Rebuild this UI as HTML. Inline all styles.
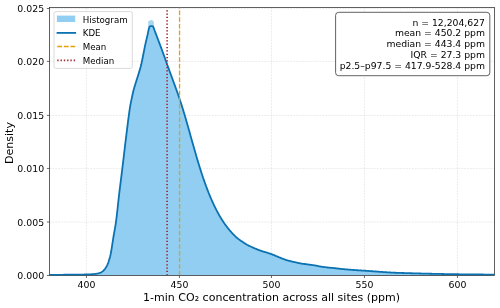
<!DOCTYPE html>
<html><head><meta charset="utf-8"><title>CO2 density</title>
<style>
html,body{margin:0;padding:0;background:#fff;}
svg{display:block;will-change:transform;}
text{font-family:"DejaVu Sans","Liberation Sans",sans-serif;fill:#000;}
</style></head><body>
<svg width="500" height="308" viewBox="0 0 500 308">
<rect width="500" height="308" fill="#fff"/>
<defs><clipPath id="ax"><rect x="49.5" y="7.45" width="445.0" height="268.0"/></clipPath></defs>
<g stroke="#d9d9d9" stroke-width="0.55" stroke-dasharray="1.8 1.1" fill="none">
<line x1="86.45" y1="7.45" x2="86.45" y2="275.45"/>
<line x1="179.45" y1="7.45" x2="179.45" y2="275.45"/>
<line x1="271.45" y1="7.45" x2="271.45" y2="275.45"/>
<line x1="364.45" y1="7.45" x2="364.45" y2="275.45"/>
<line x1="457.45" y1="7.45" x2="457.45" y2="275.45"/>
<line x1="49.5" y1="222.00" x2="494.5" y2="222.00"/>
<line x1="49.5" y1="168.45" x2="494.5" y2="168.45"/>
<line x1="49.5" y1="115.40" x2="494.5" y2="115.40"/>
<line x1="49.5" y1="61.40" x2="494.5" y2="61.40"/>
<line x1="49.5" y1="8.50" x2="494.5" y2="8.50"/>
</g>
<path d="M49.60,274.90 L50.10,274.90 L50.60,274.89 L51.10,274.89 L51.60,274.88 L52.10,274.88 L52.60,274.88 L53.10,274.87 L53.60,274.87 L54.10,274.86 L54.60,274.86 L55.10,274.85 L55.60,274.85 L56.10,274.84 L56.60,274.84 L57.10,274.84 L57.60,274.83 L58.10,274.83 L58.60,274.82 L59.10,274.82 L59.60,274.81 L60.10,274.81 L60.60,274.80 L61.10,274.80 L61.60,274.79 L62.10,274.79 L62.60,274.78 L63.10,274.78 L63.60,274.77 L64.10,274.77 L64.60,274.76 L65.10,274.75 L65.60,274.75 L66.10,274.74 L66.60,274.74 L67.10,274.73 L67.60,274.73 L68.10,274.72 L68.60,274.72 L69.10,274.71 L69.60,274.70 L70.10,274.70 L70.60,274.69 L71.10,274.69 L71.60,274.68 L72.10,274.68 L72.60,274.67 L73.10,274.67 L73.60,274.66 L74.10,274.66 L74.60,274.65 L75.10,274.64 L75.60,274.64 L76.10,274.63 L76.60,274.63 L77.10,274.62 L77.60,274.62 L78.10,274.61 L78.60,274.60 L79.10,274.60 L79.60,274.59 L80.10,274.58 L80.60,274.58 L81.10,274.57 L81.60,274.56 L82.10,274.55 L82.60,274.54 L83.10,274.54 L83.60,274.53 L84.10,274.52 L84.60,274.51 L85.10,274.50 L85.60,274.49 L86.10,274.47 L86.60,274.46 L87.10,274.45 L87.60,274.43 L88.10,274.42 L88.60,274.40 L89.10,274.38 L89.60,274.36 L90.10,274.33 L90.60,274.31 L91.10,274.28 L91.60,274.25 L92.10,274.22 L92.60,274.18 L93.10,274.14 L93.60,274.09 L94.10,274.04 L94.60,273.98 L95.10,273.92 L95.60,273.86 L96.10,273.79 L96.60,273.72 L97.10,273.63 L97.60,273.53 L98.10,273.42 L98.60,273.29 L99.10,273.14 L99.60,272.98 L100.10,272.80 L100.60,272.60 L101.10,272.37 L101.60,272.08 L102.10,271.75 L102.60,271.37 L103.10,270.95 L103.60,270.51 L104.10,269.99 L104.60,269.38 L105.10,268.70 L105.60,267.96 L106.10,267.18 L106.60,266.32 L107.10,265.37 L107.60,264.30 L108.10,263.09 L108.60,261.61 L109.10,259.97 L109.60,258.30 L110.10,256.53 L110.60,254.44 L111.10,251.75 L111.60,248.82 L112.10,245.66 L112.60,242.37 L113.10,239.11 L113.60,236.00 L114.10,233.14 L114.60,230.40 L115.10,227.61 L115.60,224.59 L116.10,221.17 L116.60,217.21 L117.10,212.86 L117.60,208.27 L118.10,203.59 L118.60,198.98 L119.10,194.60 L119.60,190.44 L120.10,186.35 L120.60,182.32 L121.10,178.32 L121.60,174.31 L122.10,170.28 L122.60,166.19 L123.10,162.03 L123.60,157.82 L124.10,153.59 L124.60,149.37 L125.10,145.18 L125.60,141.04 L126.10,136.98 L126.60,132.93 L127.10,128.88 L127.60,124.88 L128.10,120.95 L128.60,117.12 L129.10,113.43 L129.60,109.88 L130.10,106.59 L130.60,103.84 L131.10,101.41 L131.60,99.07 L132.10,96.68 L132.60,94.29 L133.10,92.03 L133.60,90.03 L134.10,88.25 L134.60,86.59 L135.10,84.98 L135.60,83.34 L136.10,81.73 L136.60,80.14 L137.10,78.56 L137.60,76.97 L138.10,75.36 L138.60,73.72 L139.10,72.11 L139.60,70.50 L140.10,68.82 L140.60,67.04 L141.10,65.09 L141.60,62.90 L142.10,60.49 L142.60,57.99 L143.10,55.49 L143.60,53.01 L144.10,50.45 L144.60,47.90 L145.10,45.44 L145.60,43.14 L146.10,40.95 L146.60,38.84 L147.10,36.75 L147.60,34.62 L148.10,32.17 L148.60,29.74 L149.10,27.79 L149.60,26.78 L150.10,26.33 L150.60,26.22 L151.10,26.17 L151.60,26.15 L152.10,26.19 L152.60,26.28 L153.10,26.75 L153.60,27.70 L154.10,29.02 L154.60,30.46 L155.10,31.79 L155.60,33.11 L156.10,34.44 L156.60,35.77 L157.10,37.09 L157.60,38.41 L158.10,39.73 L158.60,41.04 L159.10,42.36 L159.60,43.69 L160.10,45.01 L160.60,46.33 L161.10,47.66 L161.60,49.00 L162.10,50.35 L162.60,51.71 L163.10,53.09 L163.60,54.47 L164.10,55.87 L164.60,57.27 L165.10,58.68 L165.60,60.10 L166.10,61.52 L166.60,62.91 L167.10,64.30 L167.60,65.69 L168.10,67.07 L168.60,68.46 L169.10,69.84 L169.60,71.21 L170.10,72.58 L170.60,73.95 L171.10,75.31 L171.60,76.67 L172.10,78.02 L172.60,79.37 L173.10,80.73 L173.60,82.08 L174.10,83.44 L174.60,84.80 L175.10,86.17 L175.60,87.54 L176.10,88.93 L176.60,90.32 L177.10,91.72 L177.60,93.14 L178.10,94.56 L178.60,96.01 L179.10,97.47 L179.60,98.94 L180.10,100.44 L180.60,101.95 L181.10,103.49 L181.60,105.05 L182.10,106.64 L182.60,108.24 L183.10,109.87 L183.60,111.51 L184.10,113.18 L184.60,114.86 L185.10,116.56 L185.60,118.27 L186.10,120.00 L186.60,121.74 L187.10,123.48 L187.60,125.24 L188.10,127.01 L188.60,128.78 L189.10,130.56 L189.60,132.34 L190.10,134.13 L190.60,135.91 L191.10,137.70 L191.60,139.49 L192.10,141.27 L192.60,143.05 L193.10,144.83 L193.60,146.60 L194.10,148.36 L194.60,150.11 L195.10,151.85 L195.60,153.58 L196.10,155.30 L196.60,157.01 L197.10,158.70 L197.60,160.38 L198.10,162.04 L198.60,163.69 L199.10,165.32 L199.60,166.93 L200.10,168.53 L200.60,170.11 L201.10,171.67 L201.60,173.22 L202.10,174.74 L202.60,176.25 L203.10,177.74 L203.60,179.20 L204.10,180.65 L204.60,182.07 L205.10,183.48 L205.60,184.86 L206.10,186.22 L206.60,187.56 L207.10,188.88 L207.60,190.18 L208.10,191.46 L208.60,192.72 L209.10,193.97 L209.60,195.19 L210.10,196.39 L210.60,197.58 L211.10,198.74 L211.60,199.89 L212.10,201.02 L212.60,202.13 L213.10,203.22 L213.60,204.29 L214.10,205.35 L214.60,206.38 L215.10,207.41 L215.60,208.41 L216.10,209.40 L216.60,210.37 L217.10,211.32 L217.60,212.26 L218.10,213.18 L218.60,214.08 L219.10,214.97 L219.60,215.84 L220.10,216.70 L220.60,217.54 L221.10,218.37 L221.60,219.18 L222.10,219.97 L222.60,220.75 L223.10,221.52 L223.60,222.27 L224.10,223.01 L224.60,223.74 L225.10,224.45 L225.60,225.14 L226.10,225.83 L226.60,226.50 L227.10,227.15 L227.60,227.80 L228.10,228.43 L228.60,229.05 L229.10,229.66 L229.60,230.25 L230.10,230.83 L230.60,231.40 L231.10,231.96 L231.60,232.51 L232.10,233.05 L232.60,233.60 L233.10,234.14 L233.60,234.67 L234.10,235.18 L234.60,235.69 L235.10,236.17 L235.60,236.64 L236.10,237.09 L236.60,237.53 L237.10,237.96 L237.60,238.37 L238.10,238.77 L238.60,239.15 L239.10,239.53 L239.60,239.88 L240.10,240.23 L240.60,240.57 L241.10,240.91 L241.60,241.24 L242.10,241.57 L242.60,241.90 L243.10,242.23 L243.60,242.57 L244.10,242.90 L244.60,243.23 L245.10,243.55 L245.60,243.87 L246.10,244.19 L246.60,244.49 L247.10,244.78 L247.60,245.05 L248.10,245.32 L248.60,245.58 L249.10,245.82 L249.60,246.06 L250.10,246.30 L250.60,246.53 L251.10,246.76 L251.60,246.98 L252.10,247.21 L252.60,247.44 L253.10,247.66 L253.60,247.88 L254.10,248.10 L254.60,248.32 L255.10,248.53 L255.60,248.75 L256.10,248.95 L256.60,249.16 L257.10,249.36 L257.60,249.56 L258.10,249.75 L258.60,249.95 L259.10,250.14 L259.60,250.32 L260.10,250.51 L260.60,250.69 L261.10,250.86 L261.60,251.03 L262.10,251.20 L262.60,251.36 L263.10,251.51 L263.60,251.65 L264.10,251.79 L264.60,251.93 L265.10,252.07 L265.60,252.21 L266.10,252.36 L266.60,252.51 L267.10,252.66 L267.60,252.82 L268.10,252.99 L268.60,253.15 L269.10,253.32 L269.60,253.49 L270.10,253.67 L270.60,253.85 L271.10,254.03 L271.60,254.21 L272.10,254.40 L272.60,254.60 L273.10,254.80 L273.60,255.00 L274.10,255.20 L274.60,255.41 L275.10,255.62 L275.60,255.83 L276.10,256.04 L276.60,256.25 L277.10,256.45 L277.60,256.66 L278.10,256.86 L278.60,257.07 L279.10,257.28 L279.60,257.49 L280.10,257.70 L280.60,257.91 L281.10,258.11 L281.60,258.31 L282.10,258.51 L282.60,258.70 L283.10,258.89 L283.60,259.07 L284.10,259.26 L284.60,259.44 L285.10,259.62 L285.60,259.79 L286.10,259.96 L286.60,260.13 L287.10,260.28 L287.60,260.43 L288.10,260.57 L288.60,260.70 L289.10,260.83 L289.60,260.96 L290.10,261.08 L290.60,261.20 L291.10,261.32 L291.60,261.44 L292.10,261.55 L292.60,261.67 L293.10,261.79 L293.60,261.90 L294.10,262.02 L294.60,262.13 L295.10,262.24 L295.60,262.35 L296.10,262.46 L296.60,262.57 L297.10,262.68 L297.60,262.79 L298.10,262.90 L298.60,263.01 L299.10,263.12 L299.60,263.23 L300.10,263.33 L300.60,263.43 L301.10,263.53 L301.60,263.62 L302.10,263.70 L302.60,263.77 L303.10,263.84 L303.60,263.91 L304.10,263.97 L304.60,264.02 L305.10,264.08 L305.60,264.14 L306.10,264.20 L306.60,264.26 L307.10,264.33 L307.60,264.40 L308.10,264.47 L308.60,264.54 L309.10,264.61 L309.60,264.69 L310.10,264.76 L310.60,264.83 L311.10,264.90 L311.60,264.97 L312.10,265.04 L312.60,265.10 L313.10,265.16 L313.60,265.22 L314.10,265.29 L314.60,265.35 L315.10,265.43 L315.60,265.52 L316.10,265.62 L316.60,265.73 L317.10,265.85 L317.60,265.96 L318.10,266.08 L318.60,266.19 L319.10,266.29 L319.60,266.38 L320.10,266.47 L320.60,266.55 L321.10,266.62 L321.60,266.70 L322.10,266.77 L322.60,266.83 L323.10,266.90 L323.60,266.97 L324.10,267.03 L324.60,267.10 L325.10,267.17 L325.60,267.23 L326.10,267.30 L326.60,267.36 L327.10,267.43 L327.60,267.49 L328.10,267.55 L328.60,267.61 L329.10,267.66 L329.60,267.71 L330.10,267.76 L330.60,267.80 L331.10,267.84 L331.60,267.88 L332.10,267.92 L332.60,267.95 L333.10,267.99 L333.60,268.03 L334.10,268.08 L334.60,268.13 L335.10,268.19 L335.60,268.25 L336.10,268.31 L336.60,268.37 L337.10,268.44 L337.60,268.50 L338.10,268.57 L338.60,268.63 L339.10,268.69 L339.60,268.74 L340.10,268.80 L340.60,268.85 L341.10,268.91 L341.60,268.96 L342.10,269.01 L342.60,269.06 L343.10,269.11 L343.60,269.15 L344.10,269.20 L344.60,269.25 L345.10,269.29 L345.60,269.33 L346.10,269.37 L346.60,269.41 L347.10,269.45 L347.60,269.49 L348.10,269.53 L348.60,269.58 L349.10,269.62 L349.60,269.66 L350.10,269.70 L350.60,269.74 L351.10,269.78 L351.60,269.82 L352.10,269.87 L352.60,269.91 L353.10,269.95 L353.60,269.98 L354.10,270.02 L354.60,270.06 L355.10,270.10 L355.60,270.13 L356.10,270.17 L356.60,270.21 L357.10,270.24 L357.60,270.27 L358.10,270.31 L358.60,270.34 L359.10,270.37 L359.60,270.40 L360.10,270.43 L360.60,270.46 L361.10,270.49 L361.60,270.51 L362.10,270.54 L362.60,270.57 L363.10,270.60 L363.60,270.63 L364.10,270.66 L364.60,270.69 L365.10,270.73 L365.60,270.76 L366.10,270.79 L366.60,270.83 L367.10,270.86 L367.60,270.90 L368.10,270.93 L368.60,270.97 L369.10,271.00 L369.60,271.04 L370.10,271.08 L370.60,271.11 L371.10,271.15 L371.60,271.19 L372.10,271.23 L372.60,271.26 L373.10,271.30 L373.60,271.33 L374.10,271.37 L374.60,271.41 L375.10,271.44 L375.60,271.48 L376.10,271.52 L376.60,271.55 L377.10,271.59 L377.60,271.63 L378.10,271.66 L378.60,271.70 L379.10,271.74 L379.60,271.78 L380.10,271.81 L380.60,271.85 L381.10,271.88 L381.60,271.92 L382.10,271.96 L382.60,271.99 L383.10,272.03 L383.60,272.06 L384.10,272.09 L384.60,272.13 L385.10,272.16 L385.60,272.19 L386.10,272.23 L386.60,272.26 L387.10,272.30 L387.60,272.33 L388.10,272.36 L388.60,272.40 L389.10,272.43 L389.60,272.46 L390.10,272.49 L390.60,272.52 L391.10,272.55 L391.60,272.58 L392.10,272.61 L392.60,272.63 L393.10,272.66 L393.60,272.68 L394.10,272.70 L394.60,272.73 L395.10,272.75 L395.60,272.76 L396.10,272.78 L396.60,272.80 L397.10,272.82 L397.60,272.83 L398.10,272.85 L398.60,272.87 L399.10,272.88 L399.60,272.90 L400.10,272.91 L400.60,272.93 L401.10,272.94 L401.60,272.96 L402.10,272.97 L402.60,272.99 L403.10,273.00 L403.60,273.02 L404.10,273.03 L404.60,273.05 L405.10,273.06 L405.60,273.08 L406.10,273.10 L406.60,273.11 L407.10,273.13 L407.60,273.14 L408.10,273.16 L408.60,273.17 L409.10,273.19 L409.60,273.20 L410.10,273.21 L410.60,273.23 L411.10,273.24 L411.60,273.26 L412.10,273.27 L412.60,273.29 L413.10,273.30 L413.60,273.32 L414.10,273.33 L414.60,273.34 L415.10,273.36 L415.60,273.37 L416.10,273.39 L416.60,273.40 L417.10,273.41 L417.60,273.43 L418.10,273.44 L418.60,273.45 L419.10,273.47 L419.60,273.48 L420.10,273.49 L420.60,273.51 L421.10,273.52 L421.60,273.53 L422.10,273.55 L422.60,273.56 L423.10,273.57 L423.60,273.58 L424.10,273.60 L424.60,273.61 L425.10,273.62 L425.60,273.63 L426.10,273.64 L426.60,273.66 L427.10,273.67 L427.60,273.68 L428.10,273.69 L428.60,273.70 L429.10,273.71 L429.60,273.73 L430.10,273.74 L430.60,273.75 L431.10,273.76 L431.60,273.77 L432.10,273.78 L432.60,273.79 L433.10,273.81 L433.60,273.82 L434.10,273.83 L434.60,273.84 L435.10,273.85 L435.60,273.86 L436.10,273.87 L436.60,273.88 L437.10,273.89 L437.60,273.90 L438.10,273.91 L438.60,273.92 L439.10,273.93 L439.60,273.94 L440.10,273.95 L440.60,273.96 L441.10,273.97 L441.60,273.98 L442.10,273.99 L442.60,274.00 L443.10,274.01 L443.60,274.02 L444.10,274.03 L444.60,274.04 L445.10,274.05 L445.60,274.06 L446.10,274.07 L446.60,274.08 L447.10,274.08 L447.60,274.09 L448.10,274.10 L448.60,274.11 L449.10,274.12 L449.60,274.13 L450.10,274.13 L450.60,274.14 L451.10,274.15 L451.60,274.16 L452.10,274.17 L452.60,274.17 L453.10,274.18 L453.60,274.19 L454.10,274.20 L454.60,274.20 L455.10,274.21 L455.60,274.22 L456.10,274.23 L456.60,274.23 L457.10,274.24 L457.60,274.25 L458.10,274.25 L458.60,274.26 L459.10,274.27 L459.60,274.28 L460.10,274.28 L460.60,274.29 L461.10,274.30 L461.60,274.30 L462.10,274.31 L462.60,274.31 L463.10,274.32 L463.60,274.33 L464.10,274.33 L464.60,274.34 L465.10,274.35 L465.60,274.35 L466.10,274.36 L466.60,274.36 L467.10,274.37 L467.60,274.37 L468.10,274.38 L468.60,274.39 L469.10,274.39 L469.60,274.40 L470.10,274.40 L470.60,274.41 L471.10,274.41 L471.60,274.42 L472.10,274.42 L472.60,274.43 L473.10,274.43 L473.60,274.44 L474.10,274.44 L474.60,274.45 L475.10,274.45 L475.60,274.46 L476.10,274.46 L476.60,274.47 L477.10,274.47 L477.60,274.47 L478.10,274.48 L478.60,274.48 L479.10,274.49 L479.60,274.49 L480.10,274.50 L480.60,274.50 L481.10,274.51 L481.60,274.51 L482.10,274.51 L482.60,274.52 L483.10,274.52 L483.60,274.53 L484.10,274.53 L484.60,274.53 L485.10,274.54 L485.60,274.54 L486.10,274.55 L486.60,274.55 L487.10,274.55 L487.60,274.56 L488.10,274.56 L488.60,274.56 L489.10,274.57 L489.60,274.57 L490.10,274.57 L490.60,274.58 L491.10,274.58 L491.60,274.58 L492.10,274.59 L492.60,274.59 L493.10,274.59 L493.60,274.60 L494.10,274.60 L494.50,274.60 L494.5,275.45 L49.5,275.45 Z" fill="#91cef1" stroke="none"/>
<path d="M148.2,27.5 L148.2,21.5 L149.6,20.6 L151.6,19.9 L153.2,20.8 L153.9,22.5 L154.1,27.5 Z" fill="#a9d7f2"/>
<rect x="49.5" y="7.45" width="445.0" height="268.0" fill="none" stroke="#3a3a3a" stroke-width="0.8"/>
<g clip-path="url(#ax)">
<path d="M49.60,274.90 L50.10,274.90 L50.60,274.89 L51.10,274.89 L51.60,274.88 L52.10,274.88 L52.60,274.88 L53.10,274.87 L53.60,274.87 L54.10,274.86 L54.60,274.86 L55.10,274.85 L55.60,274.85 L56.10,274.84 L56.60,274.84 L57.10,274.84 L57.60,274.83 L58.10,274.83 L58.60,274.82 L59.10,274.82 L59.60,274.81 L60.10,274.81 L60.60,274.80 L61.10,274.80 L61.60,274.79 L62.10,274.79 L62.60,274.78 L63.10,274.78 L63.60,274.77 L64.10,274.77 L64.60,274.76 L65.10,274.75 L65.60,274.75 L66.10,274.74 L66.60,274.74 L67.10,274.73 L67.60,274.73 L68.10,274.72 L68.60,274.72 L69.10,274.71 L69.60,274.70 L70.10,274.70 L70.60,274.69 L71.10,274.69 L71.60,274.68 L72.10,274.68 L72.60,274.67 L73.10,274.67 L73.60,274.66 L74.10,274.66 L74.60,274.65 L75.10,274.64 L75.60,274.64 L76.10,274.63 L76.60,274.63 L77.10,274.62 L77.60,274.62 L78.10,274.61 L78.60,274.60 L79.10,274.60 L79.60,274.59 L80.10,274.58 L80.60,274.58 L81.10,274.57 L81.60,274.56 L82.10,274.55 L82.60,274.54 L83.10,274.54 L83.60,274.53 L84.10,274.52 L84.60,274.51 L85.10,274.50 L85.60,274.49 L86.10,274.47 L86.60,274.46 L87.10,274.45 L87.60,274.43 L88.10,274.42 L88.60,274.40 L89.10,274.38 L89.60,274.36 L90.10,274.33 L90.60,274.31 L91.10,274.28 L91.60,274.25 L92.10,274.22 L92.60,274.18 L93.10,274.14 L93.60,274.09 L94.10,274.04 L94.60,273.98 L95.10,273.92 L95.60,273.86 L96.10,273.79 L96.60,273.72 L97.10,273.63 L97.60,273.53 L98.10,273.42 L98.60,273.29 L99.10,273.14 L99.60,272.98 L100.10,272.80 L100.60,272.60 L101.10,272.37 L101.60,272.08 L102.10,271.75 L102.60,271.37 L103.10,270.95 L103.60,270.51 L104.10,269.99 L104.60,269.38 L105.10,268.70 L105.60,267.96 L106.10,267.18 L106.60,266.32 L107.10,265.37 L107.60,264.30 L108.10,263.09 L108.60,261.61 L109.10,259.97 L109.60,258.30 L110.10,256.53 L110.60,254.44 L111.10,251.75 L111.60,248.82 L112.10,245.66 L112.60,242.37 L113.10,239.11 L113.60,236.00 L114.10,233.14 L114.60,230.40 L115.10,227.61 L115.60,224.59 L116.10,221.17 L116.60,217.21 L117.10,212.86 L117.60,208.27 L118.10,203.59 L118.60,198.98 L119.10,194.60 L119.60,190.44 L120.10,186.35 L120.60,182.32 L121.10,178.32 L121.60,174.31 L122.10,170.28 L122.60,166.19 L123.10,162.03 L123.60,157.82 L124.10,153.59 L124.60,149.37 L125.10,145.18 L125.60,141.04 L126.10,136.98 L126.60,132.93 L127.10,128.88 L127.60,124.88 L128.10,120.95 L128.60,117.12 L129.10,113.43 L129.60,109.88 L130.10,106.59 L130.60,103.84 L131.10,101.41 L131.60,99.07 L132.10,96.68 L132.60,94.29 L133.10,92.03 L133.60,90.03 L134.10,88.25 L134.60,86.59 L135.10,84.98 L135.60,83.34 L136.10,81.73 L136.60,80.14 L137.10,78.56 L137.60,76.97 L138.10,75.36 L138.60,73.72 L139.10,72.11 L139.60,70.50 L140.10,68.82 L140.60,67.04 L141.10,65.09 L141.60,62.90 L142.10,60.49 L142.60,57.99 L143.10,55.49 L143.60,53.01 L144.10,50.45 L144.60,47.90 L145.10,45.44 L145.60,43.14 L146.10,40.95 L146.60,38.84 L147.10,36.75 L147.60,34.62 L148.10,32.17 L148.60,29.74 L149.10,27.79 L149.60,26.78 L150.10,26.33 L150.60,26.22 L151.10,26.17 L151.60,26.15 L152.10,26.19 L152.60,26.28 L153.10,26.75 L153.60,27.70 L154.10,29.02 L154.60,30.46 L155.10,31.79 L155.60,33.11 L156.10,34.44 L156.60,35.77 L157.10,37.09 L157.60,38.41 L158.10,39.73 L158.60,41.04 L159.10,42.36 L159.60,43.69 L160.10,45.01 L160.60,46.33 L161.10,47.66 L161.60,49.00 L162.10,50.35 L162.60,51.71 L163.10,53.09 L163.60,54.47 L164.10,55.87 L164.60,57.27 L165.10,58.68 L165.60,60.10 L166.10,61.52 L166.60,62.91 L167.10,64.30 L167.60,65.69 L168.10,67.07 L168.60,68.46 L169.10,69.84 L169.60,71.21 L170.10,72.58 L170.60,73.95 L171.10,75.31 L171.60,76.67 L172.10,78.02 L172.60,79.37 L173.10,80.73 L173.60,82.08 L174.10,83.44 L174.60,84.80 L175.10,86.17 L175.60,87.54 L176.10,88.93 L176.60,90.32 L177.10,91.72 L177.60,93.14 L178.10,94.56 L178.60,96.01 L179.10,97.47 L179.60,98.94 L180.10,100.44 L180.60,101.95 L181.10,103.49 L181.60,105.05 L182.10,106.64 L182.60,108.24 L183.10,109.87 L183.60,111.51 L184.10,113.18 L184.60,114.86 L185.10,116.56 L185.60,118.27 L186.10,120.00 L186.60,121.74 L187.10,123.48 L187.60,125.24 L188.10,127.01 L188.60,128.78 L189.10,130.56 L189.60,132.34 L190.10,134.13 L190.60,135.91 L191.10,137.70 L191.60,139.49 L192.10,141.27 L192.60,143.05 L193.10,144.83 L193.60,146.60 L194.10,148.36 L194.60,150.11 L195.10,151.85 L195.60,153.58 L196.10,155.30 L196.60,157.01 L197.10,158.70 L197.60,160.38 L198.10,162.04 L198.60,163.69 L199.10,165.32 L199.60,166.93 L200.10,168.53 L200.60,170.11 L201.10,171.67 L201.60,173.22 L202.10,174.74 L202.60,176.25 L203.10,177.74 L203.60,179.20 L204.10,180.65 L204.60,182.07 L205.10,183.48 L205.60,184.86 L206.10,186.22 L206.60,187.56 L207.10,188.88 L207.60,190.18 L208.10,191.46 L208.60,192.72 L209.10,193.97 L209.60,195.19 L210.10,196.39 L210.60,197.58 L211.10,198.74 L211.60,199.89 L212.10,201.02 L212.60,202.13 L213.10,203.22 L213.60,204.29 L214.10,205.35 L214.60,206.38 L215.10,207.41 L215.60,208.41 L216.10,209.40 L216.60,210.37 L217.10,211.32 L217.60,212.26 L218.10,213.18 L218.60,214.08 L219.10,214.97 L219.60,215.84 L220.10,216.70 L220.60,217.54 L221.10,218.37 L221.60,219.18 L222.10,219.97 L222.60,220.75 L223.10,221.52 L223.60,222.27 L224.10,223.01 L224.60,223.74 L225.10,224.45 L225.60,225.14 L226.10,225.83 L226.60,226.50 L227.10,227.15 L227.60,227.80 L228.10,228.43 L228.60,229.05 L229.10,229.66 L229.60,230.25 L230.10,230.83 L230.60,231.40 L231.10,231.96 L231.60,232.51 L232.10,233.05 L232.60,233.60 L233.10,234.14 L233.60,234.67 L234.10,235.18 L234.60,235.69 L235.10,236.17 L235.60,236.64 L236.10,237.09 L236.60,237.53 L237.10,237.96 L237.60,238.37 L238.10,238.77 L238.60,239.15 L239.10,239.53 L239.60,239.88 L240.10,240.23 L240.60,240.57 L241.10,240.91 L241.60,241.24 L242.10,241.57 L242.60,241.90 L243.10,242.23 L243.60,242.57 L244.10,242.90 L244.60,243.23 L245.10,243.55 L245.60,243.87 L246.10,244.19 L246.60,244.49 L247.10,244.78 L247.60,245.05 L248.10,245.32 L248.60,245.58 L249.10,245.82 L249.60,246.06 L250.10,246.30 L250.60,246.53 L251.10,246.76 L251.60,246.98 L252.10,247.21 L252.60,247.44 L253.10,247.66 L253.60,247.88 L254.10,248.10 L254.60,248.32 L255.10,248.53 L255.60,248.75 L256.10,248.95 L256.60,249.16 L257.10,249.36 L257.60,249.56 L258.10,249.75 L258.60,249.95 L259.10,250.14 L259.60,250.32 L260.10,250.51 L260.60,250.69 L261.10,250.86 L261.60,251.03 L262.10,251.20 L262.60,251.36 L263.10,251.51 L263.60,251.65 L264.10,251.79 L264.60,251.93 L265.10,252.07 L265.60,252.21 L266.10,252.36 L266.60,252.51 L267.10,252.66 L267.60,252.82 L268.10,252.99 L268.60,253.15 L269.10,253.32 L269.60,253.49 L270.10,253.67 L270.60,253.85 L271.10,254.03 L271.60,254.21 L272.10,254.40 L272.60,254.60 L273.10,254.80 L273.60,255.00 L274.10,255.20 L274.60,255.41 L275.10,255.62 L275.60,255.83 L276.10,256.04 L276.60,256.25 L277.10,256.45 L277.60,256.66 L278.10,256.86 L278.60,257.07 L279.10,257.28 L279.60,257.49 L280.10,257.70 L280.60,257.91 L281.10,258.11 L281.60,258.31 L282.10,258.51 L282.60,258.70 L283.10,258.89 L283.60,259.07 L284.10,259.26 L284.60,259.44 L285.10,259.62 L285.60,259.79 L286.10,259.96 L286.60,260.13 L287.10,260.28 L287.60,260.43 L288.10,260.57 L288.60,260.70 L289.10,260.83 L289.60,260.96 L290.10,261.08 L290.60,261.20 L291.10,261.32 L291.60,261.44 L292.10,261.55 L292.60,261.67 L293.10,261.79 L293.60,261.90 L294.10,262.02 L294.60,262.13 L295.10,262.24 L295.60,262.35 L296.10,262.46 L296.60,262.57 L297.10,262.68 L297.60,262.79 L298.10,262.90 L298.60,263.01 L299.10,263.12 L299.60,263.23 L300.10,263.33 L300.60,263.43 L301.10,263.53 L301.60,263.62 L302.10,263.70 L302.60,263.77 L303.10,263.84 L303.60,263.91 L304.10,263.97 L304.60,264.02 L305.10,264.08 L305.60,264.14 L306.10,264.20 L306.60,264.26 L307.10,264.33 L307.60,264.40 L308.10,264.47 L308.60,264.54 L309.10,264.61 L309.60,264.69 L310.10,264.76 L310.60,264.83 L311.10,264.90 L311.60,264.97 L312.10,265.04 L312.60,265.10 L313.10,265.16 L313.60,265.22 L314.10,265.29 L314.60,265.35 L315.10,265.43 L315.60,265.52 L316.10,265.62 L316.60,265.73 L317.10,265.85 L317.60,265.96 L318.10,266.08 L318.60,266.19 L319.10,266.29 L319.60,266.38 L320.10,266.47 L320.60,266.55 L321.10,266.62 L321.60,266.70 L322.10,266.77 L322.60,266.83 L323.10,266.90 L323.60,266.97 L324.10,267.03 L324.60,267.10 L325.10,267.17 L325.60,267.23 L326.10,267.30 L326.60,267.36 L327.10,267.43 L327.60,267.49 L328.10,267.55 L328.60,267.61 L329.10,267.66 L329.60,267.71 L330.10,267.76 L330.60,267.80 L331.10,267.84 L331.60,267.88 L332.10,267.92 L332.60,267.95 L333.10,267.99 L333.60,268.03 L334.10,268.08 L334.60,268.13 L335.10,268.19 L335.60,268.25 L336.10,268.31 L336.60,268.37 L337.10,268.44 L337.60,268.50 L338.10,268.57 L338.60,268.63 L339.10,268.69 L339.60,268.74 L340.10,268.80 L340.60,268.85 L341.10,268.91 L341.60,268.96 L342.10,269.01 L342.60,269.06 L343.10,269.11 L343.60,269.15 L344.10,269.20 L344.60,269.25 L345.10,269.29 L345.60,269.33 L346.10,269.37 L346.60,269.41 L347.10,269.45 L347.60,269.49 L348.10,269.53 L348.60,269.58 L349.10,269.62 L349.60,269.66 L350.10,269.70 L350.60,269.74 L351.10,269.78 L351.60,269.82 L352.10,269.87 L352.60,269.91 L353.10,269.95 L353.60,269.98 L354.10,270.02 L354.60,270.06 L355.10,270.10 L355.60,270.13 L356.10,270.17 L356.60,270.21 L357.10,270.24 L357.60,270.27 L358.10,270.31 L358.60,270.34 L359.10,270.37 L359.60,270.40 L360.10,270.43 L360.60,270.46 L361.10,270.49 L361.60,270.51 L362.10,270.54 L362.60,270.57 L363.10,270.60 L363.60,270.63 L364.10,270.66 L364.60,270.69 L365.10,270.73 L365.60,270.76 L366.10,270.79 L366.60,270.83 L367.10,270.86 L367.60,270.90 L368.10,270.93 L368.60,270.97 L369.10,271.00 L369.60,271.04 L370.10,271.08 L370.60,271.11 L371.10,271.15 L371.60,271.19 L372.10,271.23 L372.60,271.26 L373.10,271.30 L373.60,271.33 L374.10,271.37 L374.60,271.41 L375.10,271.44 L375.60,271.48 L376.10,271.52 L376.60,271.55 L377.10,271.59 L377.60,271.63 L378.10,271.66 L378.60,271.70 L379.10,271.74 L379.60,271.78 L380.10,271.81 L380.60,271.85 L381.10,271.88 L381.60,271.92 L382.10,271.96 L382.60,271.99 L383.10,272.03 L383.60,272.06 L384.10,272.09 L384.60,272.13 L385.10,272.16 L385.60,272.19 L386.10,272.23 L386.60,272.26 L387.10,272.30 L387.60,272.33 L388.10,272.36 L388.60,272.40 L389.10,272.43 L389.60,272.46 L390.10,272.49 L390.60,272.52 L391.10,272.55 L391.60,272.58 L392.10,272.61 L392.60,272.63 L393.10,272.66 L393.60,272.68 L394.10,272.70 L394.60,272.73 L395.10,272.75 L395.60,272.76 L396.10,272.78 L396.60,272.80 L397.10,272.82 L397.60,272.83 L398.10,272.85 L398.60,272.87 L399.10,272.88 L399.60,272.90 L400.10,272.91 L400.60,272.93 L401.10,272.94 L401.60,272.96 L402.10,272.97 L402.60,272.99 L403.10,273.00 L403.60,273.02 L404.10,273.03 L404.60,273.05 L405.10,273.06 L405.60,273.08 L406.10,273.10 L406.60,273.11 L407.10,273.13 L407.60,273.14 L408.10,273.16 L408.60,273.17 L409.10,273.19 L409.60,273.20 L410.10,273.21 L410.60,273.23 L411.10,273.24 L411.60,273.26 L412.10,273.27 L412.60,273.29 L413.10,273.30 L413.60,273.32 L414.10,273.33 L414.60,273.34 L415.10,273.36 L415.60,273.37 L416.10,273.39 L416.60,273.40 L417.10,273.41 L417.60,273.43 L418.10,273.44 L418.60,273.45 L419.10,273.47 L419.60,273.48 L420.10,273.49 L420.60,273.51 L421.10,273.52 L421.60,273.53 L422.10,273.55 L422.60,273.56 L423.10,273.57 L423.60,273.58 L424.10,273.60 L424.60,273.61 L425.10,273.62 L425.60,273.63 L426.10,273.64 L426.60,273.66 L427.10,273.67 L427.60,273.68 L428.10,273.69 L428.60,273.70 L429.10,273.71 L429.60,273.73 L430.10,273.74 L430.60,273.75 L431.10,273.76 L431.60,273.77 L432.10,273.78 L432.60,273.79 L433.10,273.81 L433.60,273.82 L434.10,273.83 L434.60,273.84 L435.10,273.85 L435.60,273.86 L436.10,273.87 L436.60,273.88 L437.10,273.89 L437.60,273.90 L438.10,273.91 L438.60,273.92 L439.10,273.93 L439.60,273.94 L440.10,273.95 L440.60,273.96 L441.10,273.97 L441.60,273.98 L442.10,273.99 L442.60,274.00 L443.10,274.01 L443.60,274.02 L444.10,274.03 L444.60,274.04 L445.10,274.05 L445.60,274.06 L446.10,274.07 L446.60,274.08 L447.10,274.08 L447.60,274.09 L448.10,274.10 L448.60,274.11 L449.10,274.12 L449.60,274.13 L450.10,274.13 L450.60,274.14 L451.10,274.15 L451.60,274.16 L452.10,274.17 L452.60,274.17 L453.10,274.18 L453.60,274.19 L454.10,274.20 L454.60,274.20 L455.10,274.21 L455.60,274.22 L456.10,274.23 L456.60,274.23 L457.10,274.24 L457.60,274.25 L458.10,274.25 L458.60,274.26 L459.10,274.27 L459.60,274.28 L460.10,274.28 L460.60,274.29 L461.10,274.30 L461.60,274.30 L462.10,274.31 L462.60,274.31 L463.10,274.32 L463.60,274.33 L464.10,274.33 L464.60,274.34 L465.10,274.35 L465.60,274.35 L466.10,274.36 L466.60,274.36 L467.10,274.37 L467.60,274.37 L468.10,274.38 L468.60,274.39 L469.10,274.39 L469.60,274.40 L470.10,274.40 L470.60,274.41 L471.10,274.41 L471.60,274.42 L472.10,274.42 L472.60,274.43 L473.10,274.43 L473.60,274.44 L474.10,274.44 L474.60,274.45 L475.10,274.45 L475.60,274.46 L476.10,274.46 L476.60,274.47 L477.10,274.47 L477.60,274.47 L478.10,274.48 L478.60,274.48 L479.10,274.49 L479.60,274.49 L480.10,274.50 L480.60,274.50 L481.10,274.51 L481.60,274.51 L482.10,274.51 L482.60,274.52 L483.10,274.52 L483.60,274.53 L484.10,274.53 L484.60,274.53 L485.10,274.54 L485.60,274.54 L486.10,274.55 L486.60,274.55 L487.10,274.55 L487.60,274.56 L488.10,274.56 L488.60,274.56 L489.10,274.57 L489.60,274.57 L490.10,274.57 L490.60,274.58 L491.10,274.58 L491.60,274.58 L492.10,274.59 L492.60,274.59 L493.10,274.59 L493.60,274.60 L494.10,274.60 L494.50,274.60" fill="none" stroke="#0b72b2" stroke-width="1.8" stroke-linejoin="round"/>
<line x1="179.55" y1="275.45" x2="179.55" y2="7.45" stroke="#e6a00f" stroke-width="1.3" stroke-dasharray="4.6 2.075"/>
<line x1="167.13" y1="275.45" x2="167.13" y2="7.45" stroke="#a62a38" stroke-width="1.8" stroke-dasharray="1.25 2.092"/>
</g>
<g stroke="#3a3a3a" stroke-width="0.75">
<line x1="86.45" y1="275.45" x2="86.45" y2="278.05"/>
<line x1="179.45" y1="275.45" x2="179.45" y2="278.05"/>
<line x1="271.45" y1="275.45" x2="271.45" y2="278.05"/>
<line x1="364.45" y1="275.45" x2="364.45" y2="278.05"/>
<line x1="457.45" y1="275.45" x2="457.45" y2="278.05"/>
<line x1="46.9" y1="275.45" x2="49.5" y2="275.45"/>
<line x1="46.9" y1="222.00" x2="49.5" y2="222.00"/>
<line x1="46.9" y1="168.45" x2="49.5" y2="168.45"/>
<line x1="46.9" y1="115.40" x2="49.5" y2="115.40"/>
<line x1="46.9" y1="61.40" x2="49.5" y2="61.40"/>
<line x1="46.9" y1="8.50" x2="49.5" y2="8.50"/>
</g>
<g font-size="9.35">
<text x="86.45" y="287.75" text-anchor="middle">400</text>
<text x="179.45" y="287.75" text-anchor="middle">450</text>
<text x="271.45" y="287.75" text-anchor="middle">500</text>
<text x="364.45" y="287.75" text-anchor="middle">550</text>
<text x="457.45" y="287.75" text-anchor="middle">600</text>
<text x="44.10" y="279.05" text-anchor="end">0.000</text>
<text x="44.10" y="225.60" text-anchor="end">0.005</text>
<text x="44.10" y="172.05" text-anchor="end">0.010</text>
<text x="44.10" y="119.00" text-anchor="end">0.015</text>
<text x="44.10" y="65.00" text-anchor="end">0.020</text>
<text x="44.10" y="12.10" text-anchor="end">0.025</text>
</g>
<text x="271.55" y="300.6" font-size="11.03" text-anchor="middle">1-min CO₂ concentration across all sites (ppm)</text>
<text transform="translate(13,143) rotate(-90)" font-size="11" text-anchor="middle">Density</text>
<!-- legend -->
<rect x="54.0" y="11.6" width="78.3" height="56.8" rx="1.8" fill="#fff" fill-opacity="0.8" stroke="#ccc" stroke-opacity="0.8" stroke-width="0.9"/>
<rect x="56.9" y="15.6" width="18.3" height="6.4" fill="#91cef1"/>
<line x1="56.6" y1="32.9" x2="76.1" y2="32.9" stroke="#0b72b2" stroke-width="1.8"/>
<line x1="57.2" y1="46.6" x2="75.3" y2="46.6" stroke="#e6a00f" stroke-width="1.5" stroke-dasharray="4.85 1.75"/>
<line x1="57.2" y1="60.3" x2="75.3" y2="60.3" stroke="#a62a38" stroke-width="1.7" stroke-dasharray="1.4 1.9"/>
<g font-size="9.1">
<text transform="translate(82.7,22.55) scale(0.955,1)">Histogram</text>
<text transform="translate(82.7,36.3) scale(0.955,1)">KDE</text>
<text transform="translate(82.7,50.05) scale(0.955,1)">Mean</text>
<text transform="translate(82.7,63.8) scale(0.955,1)">Median</text>
</g>
<!-- stats box -->
<rect x="335.6" y="12.3" width="154.2" height="63.4" rx="3" fill="#fff" stroke="#3a3a3a" stroke-width="0.8"/>
<g font-size="9.25" text-anchor="end">
<text x="484.95" y="25.5">n = 12,204,627</text>
<text x="484.95" y="36.4">mean = 450.2 ppm</text>
<text x="484.95" y="47.3">median = 443.4 ppm</text>
<text x="484.95" y="58.2">IQR = 27.3 ppm</text>
<text x="484.95" y="69.15">p2.5–p97.5 = 417.9-528.4 ppm</text>
</g>
</svg>
</body></html>
